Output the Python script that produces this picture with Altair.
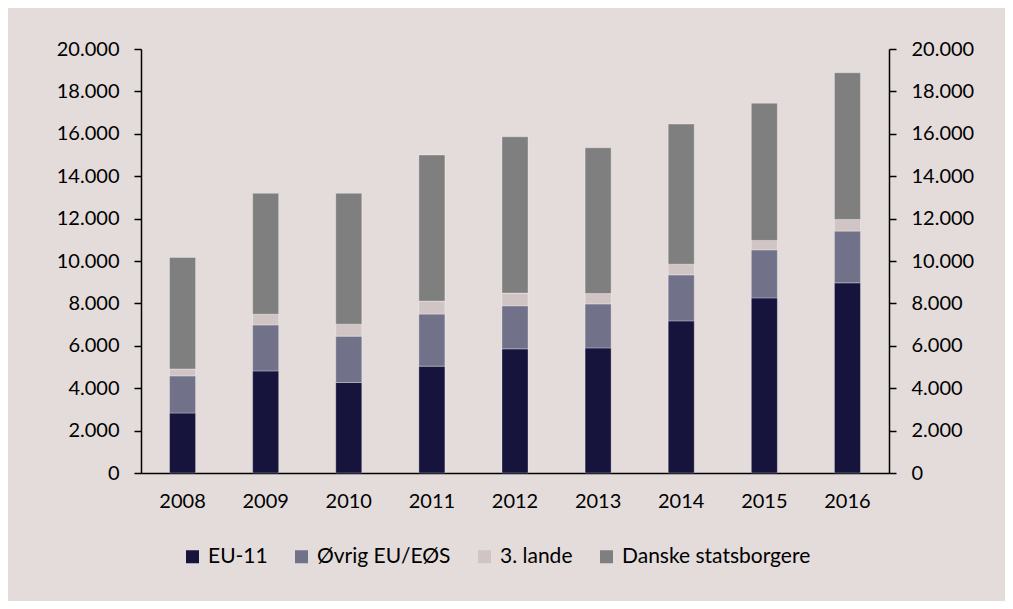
import altair as alt
import pandas as pd

years = ["2008", "2009", "2010", "2011", "2012", "2013", "2014", "2015", "2016"]
eu11 = [2830, 4815, 4270, 5040, 5855, 5900, 7175, 8260, 8970]
ovrig = [1750, 2170, 2185, 2455, 2030, 2075, 2170, 2265, 2440]
lande3 = [330, 505, 565, 615, 600, 490, 505, 445, 550]
danske = [5260, 5700, 6170, 6890, 7375, 6875, 6610, 6470, 6920]

series_names = ["EU-11", "Øvrig EU/EØS", "3. lande", "Danske statsborgere"]
series_values = [eu11, ovrig, lande3, danske]
colors = ["#16143C", "#717189", "#D0C5C4", "#7F7F7F"]

rows = []
for si, (name, vals) in enumerate(zip(series_names, series_values)):
    for y, v in zip(years, vals):
        rows.append({"year": y, "series": name, "value": v, "order": si})
df = pd.DataFrame(rows)

FONT = "Lato"
label_expr = "replace(format(datum.value, ','), ',', '.')"

x_enc = alt.X(
    "year:N",
    sort=years,
    title=None,
    scale=alt.Scale(paddingInner=0.687, paddingOuter=0.3435),
    axis=alt.Axis(labelAngle=0, ticks=False, tickSize=0, labelPadding=18,
                  domainColor="black", domainWidth=1.5, labelFont=FONT,
                  labelFontSize=20, labelColor="black", grid=False),
)

yscale = alt.Scale(domain=[0, 20000])

left_axis = alt.Axis(orient="left", values=list(range(0, 20001, 2000)), labelExpr=label_expr,
                     grid=False, tickSize=7, tickColor="black", tickWidth=1.5,
                     domainColor="black", domainWidth=1.5, labelPadding=15,
                     labelFont=FONT, labelFontSize=20, labelColor="black", title=None)
right_axis = alt.Axis(orient="right", values=list(range(0, 20001, 2000)), labelExpr=label_expr,
                      grid=False, tickSize=7, tickColor="black", tickWidth=1.5,
                      domainColor="black", domainWidth=1.5, labelPadding=15,
                      labelFont=FONT, labelFontSize=20, labelColor="black", title=None)

base = alt.Chart(df)

bars = base.mark_bar(stroke="white", strokeOpacity=0.3, strokeWidth=1).encode(
    x=x_enc,
    y=alt.Y("value:Q", stack="zero", scale=yscale, axis=left_axis),
    color=alt.Color("series:N", sort=series_names,
                    scale=alt.Scale(domain=series_names, range=colors),
                    legend=alt.Legend(title=None, orient="none", direction="horizontal",
                                      legendX=41, legendY=497, symbolType="square",
                                      symbolSize=169, symbolStrokeWidth=0,
                                      labelFont=FONT, labelFontSize=21, labelColor="black",
                                      labelLimit=500, columnPadding=23, labelOffset=5)),
    order=alt.Order("order:Q"),
)

ghost = base.mark_bar(opacity=0).encode(
    x=x_enc,
    y=alt.Y("value:Q", stack="zero", scale=yscale, axis=right_axis),
    detail="series:N",
    order=alt.Order("order:Q"),
)

chart = alt.layer(bars, ghost).resolve_scale(y="shared").resolve_axis(y="independent").properties(
    width=748, height=424,
    padding={"left": 133, "top": 41, "right": 116, "bottom": 128},
    autosize=alt.AutoSizeParams(type="none"),
    background="#E3DCDB",
).configure_view(strokeWidth=0)

chart.save("out.html", embed_options={"renderer": "svg", "actions": False})
